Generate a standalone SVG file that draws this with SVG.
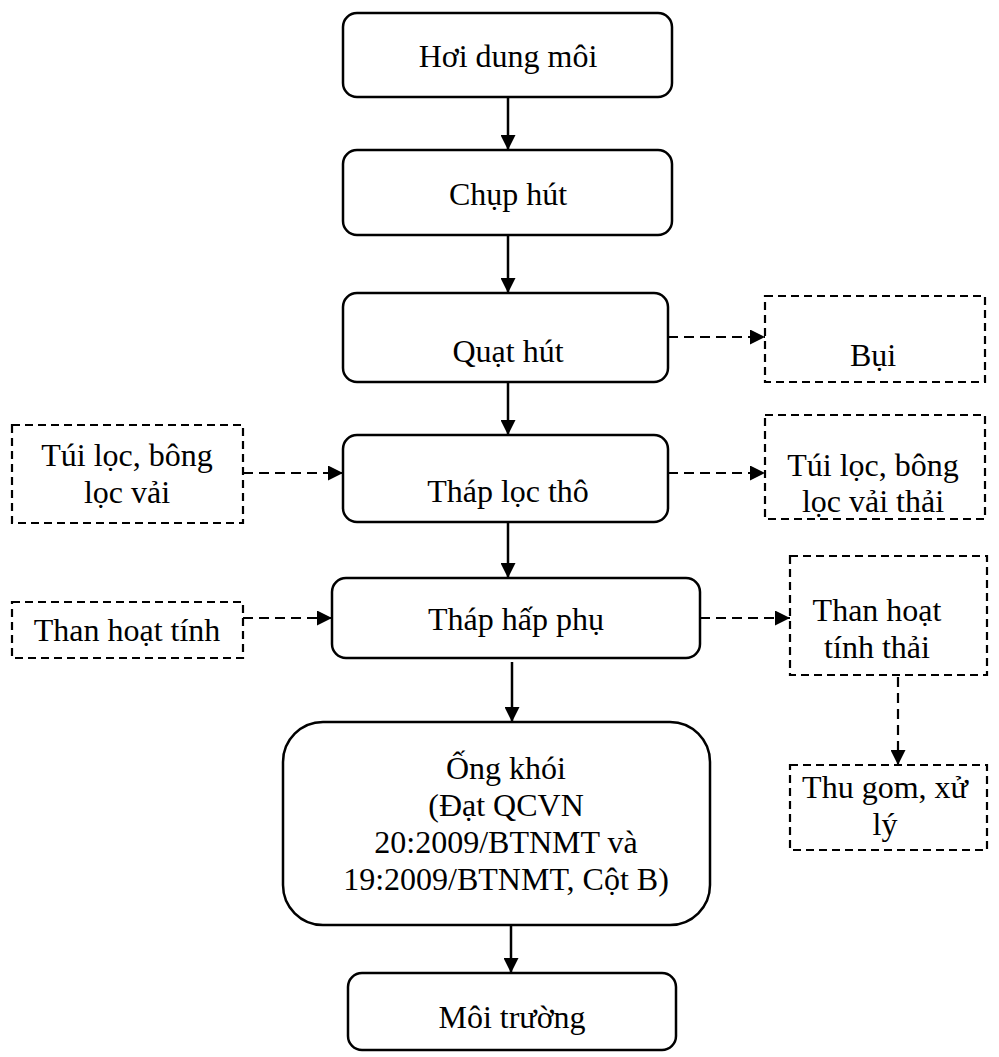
<svg xmlns="http://www.w3.org/2000/svg" width="999" height="1057" viewBox="0 0 999 1057">
<style>
.n{fill:#fff;stroke:#000;stroke-width:2.5}
.d{fill:#fff;stroke:#000;stroke-width:2.2;stroke-dasharray:8 5}
.t{font-family:"Liberation Serif","Times New Roman",serif;font-size:32px;fill:#000;text-anchor:middle}
.c{stroke:#000;stroke-width:2.5;fill:none}
.cd{stroke:#000;stroke-width:2.2;fill:none;stroke-dasharray:10 6}
</style>
<defs>
<marker id="ah" viewBox="0 0 10 10" refX="10" refY="5" markerWidth="16" markerHeight="15" orient="auto" markerUnits="userSpaceOnUse"><path d="M0,0L10,5L0,10z" fill="#000"/></marker>
</defs>
<rect width="999" height="1057" fill="#fff"/>
<g id="connectors">
<line class="c" x1="508" y1="97" x2="508" y2="150" marker-end="url(#ah)"/>
<line class="c" x1="508" y1="235" x2="508" y2="293" marker-end="url(#ah)"/>
<line class="c" x1="508" y1="382" x2="508" y2="435" marker-end="url(#ah)"/>
<line class="c" x1="508" y1="522" x2="508" y2="578" marker-end="url(#ah)"/>
<line class="c" x1="512" y1="662" x2="512" y2="722" marker-end="url(#ah)"/>
<line class="c" x1="511" y1="925" x2="511" y2="973" marker-end="url(#ah)"/>
<line class="cd" x1="668" y1="337" x2="765" y2="337" marker-end="url(#ah)"/>
<line class="cd" x1="668" y1="473" x2="765" y2="473" marker-end="url(#ah)"/>
<line class="cd" x1="243" y1="473" x2="343" y2="473" marker-end="url(#ah)"/>
<line class="cd" x1="243" y1="618" x2="332" y2="618" marker-end="url(#ah)"/>
<line class="cd" x1="700" y1="618" x2="790" y2="618" marker-end="url(#ah)"/>
<line class="cd" x1="898" y1="677" x2="898" y2="765" marker-end="url(#ah)"/>
</g>
<g id="n1"><rect class="n" x="343" y="13" width="329" height="84" rx="14"/><text class="t" x="508" y="67">Hơi dung môi</text></g>
<g id="n2"><rect class="n" x="343" y="150" width="329" height="85" rx="14"/><text class="t" x="508" y="205">Chụp hút</text></g>
<g id="n3"><rect class="n" x="343" y="293" width="325" height="89" rx="14"/><text class="t" x="508" y="362">Quạt hút</text></g>
<g id="n4"><rect class="n" x="343" y="435" width="325" height="87" rx="14"/><text class="t" x="508" y="502">Tháp lọc thô</text></g>
<g id="n5"><rect class="n" x="332" y="578" width="368" height="80" rx="14"/><text class="t" x="516" y="630">Tháp hấp phụ</text></g>
<g id="n6"><rect class="n" x="283" y="722" width="427" height="203" rx="40"/><text class="t" x="506" y="779">Ống khói</text><text class="t" x="506" y="816">(Đạt QCVN</text><text class="t" x="506" y="853">20:2009/BTNMT và</text><text class="t" x="506" y="890">19:2009/BTNMT, Cột B)</text></g>
<g id="n7"><rect class="n" x="348" y="973" width="328" height="77" rx="14"/><text class="t" x="512" y="1028">Môi trường</text></g>
<g id="bui"><rect class="d" x="765" y="296" width="220" height="86"/><text class="t" x="873" y="366">Bụi</text></g>
<g id="tuithai"><rect class="d" x="765" y="415" width="220" height="104"/><text class="t" x="873" y="476">Túi lọc, bông</text><text class="t" x="873" y="512">lọc vải thải</text></g>
<g id="tuiloc"><rect class="d" x="12" y="425" width="231" height="98"/><text class="t" x="127" y="466">Túi lọc, bông</text><text class="t" x="127" y="503">lọc vải</text></g>
<g id="than"><rect class="d" x="12" y="602" width="231" height="56"/><text class="t" x="127" y="641">Than hoạt tính</text></g>
<g id="thanthai"><rect class="d" x="790" y="556" width="197" height="119"/><text class="t" x="877" y="621">Than hoạt</text><text class="t" x="877" y="658">tính thải</text></g>
<g id="thugom"><rect class="d" x="790" y="765" width="197" height="85"/><text class="t" x="885" y="798">Thu gom, xử</text><text class="t" x="885" y="835">lý</text></g>
</svg>
